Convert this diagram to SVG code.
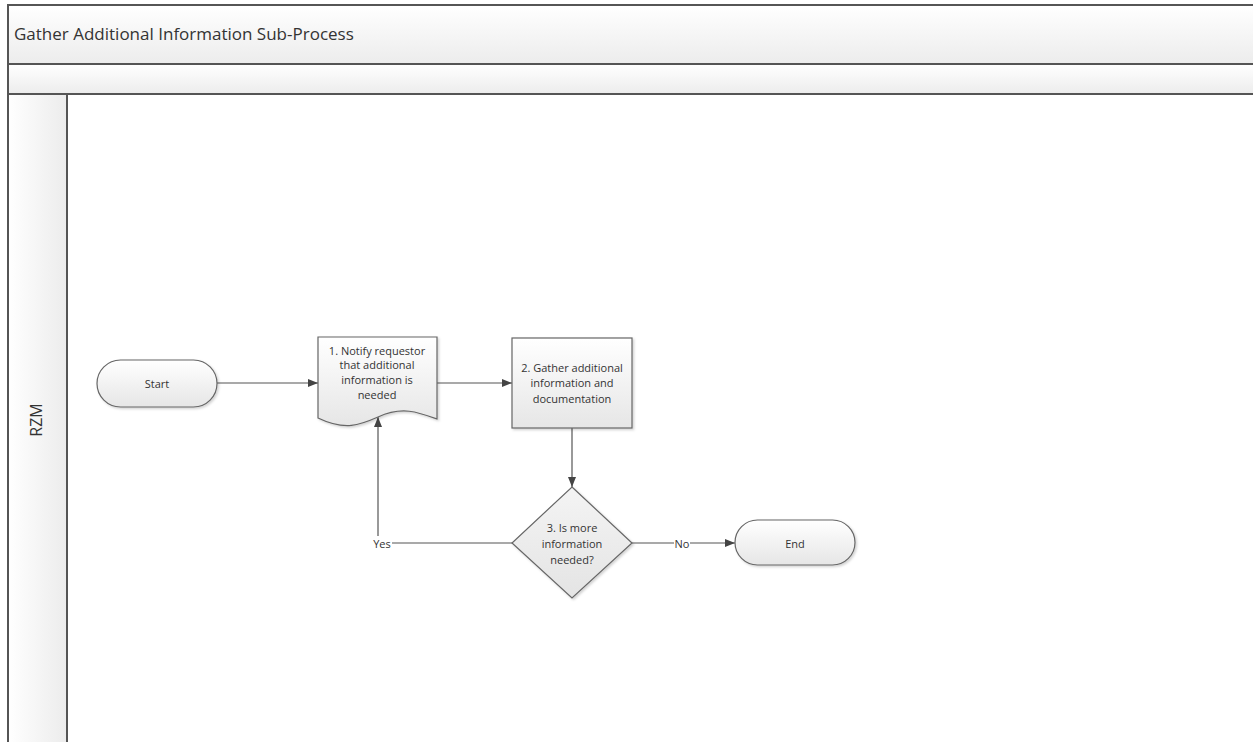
<svg xmlns="http://www.w3.org/2000/svg" width="1253" height="742" viewBox="0 0 1253 742">
<style>
.t{font-family:"Open Sans","Liberation Sans",Arial,sans-serif;font-size:11px;fill:#333;text-anchor:middle;dominant-baseline:central}
.shape{stroke:#666;stroke-width:1.2}
.conn{fill:none;stroke:#555;stroke-width:1.2}
.band{stroke:#555;stroke-width:2}
</style>
<defs>
<linearGradient id="gv" x1="0" y1="0" x2="0" y2="1"><stop offset="0" stop-color="#ffffff"/><stop offset="1" stop-color="#ececec"/></linearGradient>
<linearGradient id="gh" x1="0" y1="0" x2="1" y2="0"><stop offset="0" stop-color="#ffffff"/><stop offset="1" stop-color="#ececec"/></linearGradient>
<linearGradient id="gs" x1="0" y1="0" x2="0" y2="1"><stop offset="0" stop-color="#ffffff"/><stop offset="1" stop-color="#e6e6e6"/></linearGradient>
<linearGradient id="gd" x1="0" y1="0" x2="0" y2="1"><stop offset="0" stop-color="#f4f4f4"/><stop offset="1" stop-color="#e4e4e4"/></linearGradient>
<marker id="arr" viewBox="0 0 10 10" refX="10" refY="5" markerWidth="10" markerHeight="10" markerUnits="userSpaceOnUse" orient="auto"><path d="M0,1 L10,5 L0,9 z" fill="#444"/></marker>
<filter id="sh" x="-10%" y="-10%" width="130%" height="130%"><feDropShadow dx="1.5" dy="1.5" stdDeviation="1" flood-color="#000" flood-opacity="0.18"/></filter>
</defs>
<g id="pool">
<rect x="8" y="5" width="1260" height="59" fill="url(#gv)" class="band"/>
<rect x="8" y="64" width="1260" height="30" fill="url(#gv)" class="band"/>
<rect x="8" y="94" width="59" height="660" fill="url(#gh)" class="band"/>
<text x="14" y="33" style="font-family:'Open Sans','Liberation Sans',Arial,sans-serif;font-size:17px;fill:#333;dominant-baseline:central">Gather Additional Information Sub-Process</text>
<text class="t" transform="translate(36,420) rotate(-90)" style="font-size:16px">RZM</text>
</g>
<g id="connectors">
<line class="conn" x1="217" y1="383" x2="318" y2="383" marker-end="url(#arr)"/>
<line class="conn" x1="437" y1="383" x2="512" y2="383" marker-end="url(#arr)"/>
<line class="conn" x1="572" y1="428" x2="572" y2="487" marker-end="url(#arr)"/>
<line class="conn" x1="632" y1="543" x2="674" y2="543"/>
<line class="conn" x1="690" y1="543" x2="735" y2="543" marker-end="url(#arr)"/>
<text class="t" x="682" y="543">No</text>
<line class="conn" x1="512" y1="543" x2="392" y2="543"/>
<line class="conn" x1="378" y1="536" x2="378" y2="417" marker-end="url(#arr)"/>
<text class="t" x="382" y="543">Yes</text>
</g>
<g id="start">
<rect class="shape" x="97" y="360" width="120" height="47" rx="23.5" fill="url(#gs)" filter="url(#sh)"/>
<text class="t" x="157" y="383">Start</text>
</g>
<g id="step1">
<path class="shape" d="M318,337 H437 V419 C418,412 402,406 378,417 C360,425 345,431 318,418 Z" fill="url(#gs)" filter="url(#sh)"/>
<text class="t" x="377" y="350">1. Notify requestor</text>
<text class="t" x="377" y="364.5">that additional</text>
<text class="t" x="377" y="379">information is</text>
<text class="t" x="377" y="394.5">needed</text>
</g>
<g id="step2">
<rect class="shape" x="512" y="338" width="120" height="90" fill="url(#gs)" filter="url(#sh)"/>
<text class="t" x="572" y="367">2. Gather additional</text>
<text class="t" x="572" y="382.5">information and</text>
<text class="t" x="572" y="398">documentation</text>
</g>
<g id="step3">
<path class="shape" d="M572,487 L632,543 L572,598 L512,543 Z" fill="url(#gd)" filter="url(#sh)"/>
<text class="t" x="572" y="527">3. Is more</text>
<text class="t" x="572" y="543">information</text>
<text class="t" x="572" y="559">needed?</text>
</g>
<g id="end">
<rect class="shape" x="735" y="520" width="120" height="45" rx="22.5" fill="url(#gs)" filter="url(#sh)"/>
<text class="t" x="795" y="543">End</text>
</g>
</svg>
